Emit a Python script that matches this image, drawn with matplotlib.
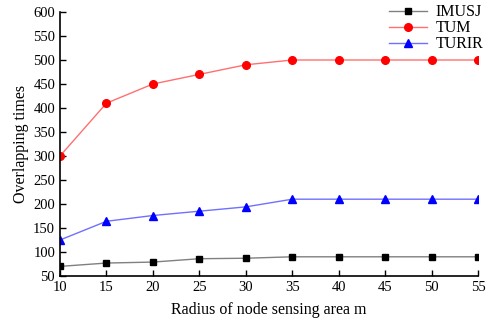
import numpy as np
import matplotlib.pyplot as plt

plt.rcParams['font.family'] = ['Liberation Serif', 'DejaVu Serif']

radius = [10, 15, 20, 25, 30, 35, 40, 45, 50, 55]
imusj = [70, 77, 79, 86, 87, 90, 90, 90, 90, 90]
tum = [300, 410, 450, 470, 490, 500, 500, 500, 500, 500]
turir = [125, 164, 176, 185, 194, 210, 210, 210, 210, 210]

fig = plt.figure(figsize=(4.89, 3.2), dpi=100)
ax1 = fig.add_axes([0.1227, 0.1375, 0.8548, 0.825])

ax1.plot(radius, imusj, color='#808080', linestyle='solid', linewidth=1.0,
         marker='s', markersize=4.5, markerfacecolor='black', markeredgecolor='black', label='IMUSJ')
ax1.plot(radius, tum, color='#ff7070', linestyle='solid', linewidth=1.0,
         marker='o', markersize=5.5, markerfacecolor='red', markeredgecolor='red', label='TUM')
ax1.plot(radius, turir, color='#7070ff', linestyle='solid', linewidth=1.0,
         marker='^', markersize=5.5, markerfacecolor='blue', markeredgecolor='blue', label='TURIR')

ax1.set_xlim(10, 55)
ax1.set_ylim(50, 600)
ax1.set_xticks(radius)
ax1.set_yticks(np.arange(50, 601, 50))
ax1.spines['top'].set_visible(False)
ax1.spines['right'].set_visible(False)
ax1.spines['left'].set_linewidth(1.2)
ax1.spines['bottom'].set_linewidth(1.2)
ax1.tick_params(direction='in', length=4, labelsize=10.5, width=1)

ax1.set_xlabel('Radius of node sensing area m', fontsize=11.5, labelpad=6)
ax1.set_ylabel('Overlapping times', fontsize=11.5, labelpad=3)

ax1.legend(loc='upper right', bbox_to_anchor=(1.035, 1.065), frameon=False, fontsize=11.5,
           handlelength=2.4, labelspacing=0.0, borderaxespad=0.2, handletextpad=0.5)

fig.savefig("out.png", dpi=100)
